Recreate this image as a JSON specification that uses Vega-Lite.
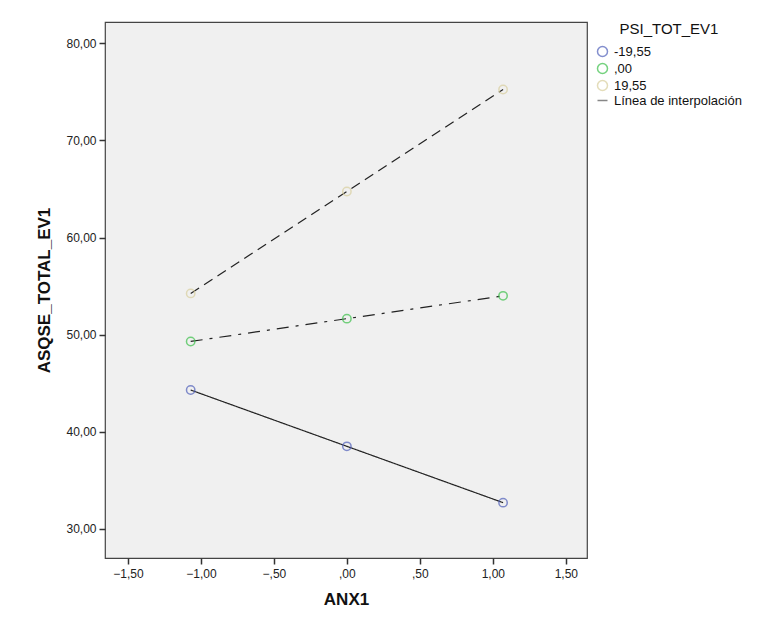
{
  "$schema": "https://vega.github.io/schema/vega-lite/v6.json",
  "autosize": "none",
  "width": 482,
  "height": 536,
  "padding": {"left": 105, "top": 22, "right": 185, "bottom": 64},
  "background": "white",
  "config": {
    "view": {"fill": "#f0f0f0", "stroke": "#444", "strokeWidth": 1.2},
    "font": "Liberation Sans",
    "axis": {"grid": false, "domain": false, "tickColor": "#333", "tickSize": 6, "tickWidth": 1.5, "labelColor": "#222", "labelFontSize": 12, "titleFontSize": 17, "titleFontWeight": "bold", "titleColor": "#111"}
  },
  "data": {"values": [
    {"grp": "-19,55", "x": -1.07, "y": 44.3},
    {"grp": "-19,55", "x": 0.0, "y": 38.5},
    {"grp": "-19,55", "x": 1.07, "y": 32.7},
    {"grp": ",00", "x": -1.07, "y": 49.3},
    {"grp": ",00", "x": 0.0, "y": 51.65},
    {"grp": ",00", "x": 1.07, "y": 54.0},
    {"grp": "19,55", "x": -1.07, "y": 54.25},
    {"grp": "19,55", "x": 0.0, "y": 64.75},
    {"grp": "19,55", "x": 1.07, "y": 75.25}
  ]},
  "encoding": {
    "x": {"field": "x", "type": "quantitative", "title": "ANX1",
      "scale": {"domain": [-1.657, 1.645], "nice": false, "zero": false},
      "axis": {"values": [-1.5, -1, -0.5, 0, 0.5, 1, 1.5], "labelPadding": 4, "titlePadding": 12,
        "labelExpr": "abs(datum.value) < 1 ? replace(format(datum.value, '.2f'), '0.', ',') : replace(format(datum.value, '.2f'), '.', ',')"}},
    "y": {"field": "y", "type": "quantitative", "title": "ASQSE_TOTAL_EV1",
      "scale": {"domain": [27.0, 82.2], "nice": false, "zero": false},
      "axis": {"values": [30, 40, 50, 60, 70, 80], "labelPadding": 3, "titlePadding": 12,
        "labelExpr": "replace(format(datum.value, '.2f'), '.', ',')"}}
  },
  "layer": [
    {
      "mark": {"type": "line", "color": "#222", "strokeWidth": 1.2},
      "encoding": {
        "detail": {"field": "grp"},
        "strokeDash": {"field": "grp", "type": "nominal", "legend": null,
          "scale": {"domain": ["-19,55", ",00", "19,55"], "range": [[1, 0], [12, 7, 3, 7], [10, 6]]}}
      }
    },
    {
      "mark": {"type": "point", "filled": false, "size": 70, "strokeWidth": 1.5},
      "encoding": {
        "color": {"field": "grp", "type": "nominal",
          "scale": {"domain": ["-19,55", ",00", "19,55", "Línea de interpolación"], "range": ["#5060ba", "#3cc04a", "#d9cf9e", "#555555"]},
          "legend": {"title": "PSI_TOT_EV1", "orient": "none", "legendX": 491, "legendY": 0,
            "titleFontSize": 15, "titleFontWeight": "normal", "titleColor": "#111", "titlePadding": 8, "titleAnchor": "middle",
            "labelFontSize": 13, "labelColor": "#111", "symbolSize": 100, "symbolStrokeWidth": 1.5,
            "rowPadding": 0, "labelOffset": 5, "padding": 0}},
        "shape": {"field": "grp", "type": "nominal",
          "scale": {"domain": ["-19,55", ",00", "19,55", "Línea de interpolación"], "range": ["circle", "circle", "circle", "stroke"]},
          "legend": {"title": "PSI_TOT_EV1"}}
      }
    }
  ]
}
